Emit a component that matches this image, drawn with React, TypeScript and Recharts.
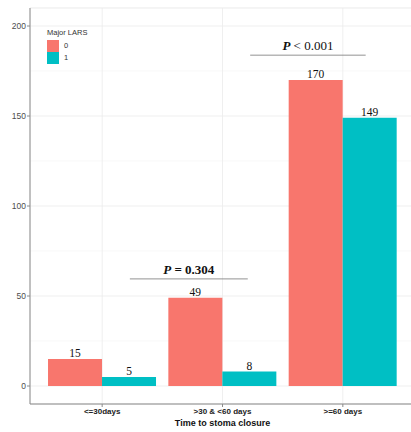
import {
  Bar,
  BarChart,
  CartesianGrid,
  LabelList,
  Legend,
  ReferenceLine,
  XAxis,
  YAxis
} from "recharts";

const categories = ["<=30days", ">30 & <60 days", ">=60 days"];
const lars0 = [15, 49, 170];
const lars1 = [5, 8, 149];
const yTicks = [0, 50, 100, 150, 200];
const yMinorTicks = [25, 75, 125, 175];

// significance brackets (x in category units, 1 = first group)
const pTexts = [" = 0.304", " < 0.001"];
const pBold = [true, false];
const bracketFrom = [1.23, 2.23];
const bracketTo = [2.21, 3.19];
const bracketY = [59.5, 183.8];

const RED = "#F8766D";
const TEAL = "#00BFC4";
const AXIS = "#8a8a8a";
const SANS = "'Liberation Sans', Arial, sans-serif";
const SERIF = "'Liberation Serif', 'Times New Roman', serif";

const rows = categories.map((name, i) => ({ name, pos: i + 1, l0: lars0[i], l1: lars1[i] }));

function LegendBox({ payload }: any) {
  return (
    <div style={{ fontFamily: SANS, fontSize: 7.5, color: "#333", textAlign: "left", lineHeight: "12px" }}>
      <div style={{ marginBottom: 1 }}>Major LARS</div>
      {(payload || []).map((p: any) => (
        <div key={p.value} style={{ display: "flex", alignItems: "center", height: 12 }}>
          <span style={{ width: 12, height: 12, background: p.color, display: "inline-block" }} />
          <span style={{ marginLeft: 5 }}>{p.value}</span>
        </div>
      ))}
    </div>
  );
}

const bracketLabel = (i: number) => (props: any) => {
  const vb = props.viewBox || {};
  const cx = vb.x + (vb.width || 0) / 2;
  return (
    <text
      x={cx}
      y={vb.y - 5}
      textAnchor="middle"
      fontFamily={SERIF}
      fontSize={13}
      fill="#111"
    >
      <tspan fontStyle="italic" fontWeight="bold">P</tspan>
      <tspan fontWeight={pBold[i] ? "bold" : "normal"}>{pTexts[i]}</tspan>
    </text>
  );
};

export default function App() {
  return (
    <div
      style={{
        position: "absolute",
        left: 0,
        top: 0,
        width: 411,
        height: 432,
        overflow: "hidden",
        background: "#fff"
      }}
    >
      <BarChart
        width={415}
        height={432}
        data={rows}
        margin={{ top: 8, right: 0, bottom: 0, left: 0 }}
        barCategoryGap="5%"
        barGap={0}
      >
        <CartesianGrid stroke="#f4f4f4" strokeWidth={0.6} vertical={false} yAxisId="minor" fill="none" />
        <CartesianGrid stroke="#ebebeb" strokeWidth={0.8} fill="none" />
        <XAxis
          dataKey="name"
          height={28}
          padding={{ left: 12, right: 12 }}
          stroke={AXIS}
          tickSize={3}
          tickMargin={1}
          tick={{ fill: "#222", fontSize: 8, fontWeight: "bold", fontFamily: SANS }}
          label={{
            value: "Time to stoma closure",
            position: "insideBottom",
            offset: 6,
            fill: "#111",
            fontSize: 9,
            fontWeight: "bold",
            fontFamily: SANS
          }}
        />
        <XAxis
          xAxisId="n"
          dataKey="pos"
          type="number"
          orientation="top"
          domain={[0.4, 3.6]}
          allowDataOverflow
          height={0}
          tick={false}
          tickLine={false}
          stroke={AXIS}
        />
        <YAxis
          width={30}
          domain={[-10, 210]}
          ticks={yTicks}
          allowDataOverflow
          stroke={AXIS}
          tickSize={3}
          tickMargin={1}
          tick={{ fill: "#4d4d4d", fontSize: 8.5, fontFamily: SANS }}
        />
        <YAxis
          yAxisId="minor"
          hide
          domain={[-10, 210]}
          ticks={yMinorTicks}
          allowDataOverflow
        />
        <Legend
          layout="vertical"
          align="center"
          verticalAlign="middle"
          content={<LegendBox />}
          wrapperStyle={{ position: "absolute", left: 47, top: 27, width: "auto", height: "auto" }}
        />
        <Bar dataKey="l0" name="0" fill={RED} isAnimationActive={false}>
          <LabelList
            dataKey="l0"
            position="top"
            offset={2}
            fill="#111"
            fontSize={11.5}
            fontFamily={SERIF}
          />
        </Bar>
        <Bar dataKey="l1" name="1" fill={TEAL} isAnimationActive={false}>
          <LabelList
            dataKey="l1"
            position="top"
            offset={2}
            fill="#111"
            fontSize={11.5}
            fontFamily={SERIF}
          />
        </Bar>
        {pTexts.map((_, i) => (
          <ReferenceLine
            key={i}
            xAxisId="n"
            ifOverflow="visible"
            segment={[
              { x: bracketFrom[i], y: bracketY[i] },
              { x: bracketTo[i], y: bracketY[i] }
            ]}
            stroke="#777"
            strokeWidth={0.8}
            label={bracketLabel(i)}
          />
        ))}
      </BarChart>
    </div>
  );
}
